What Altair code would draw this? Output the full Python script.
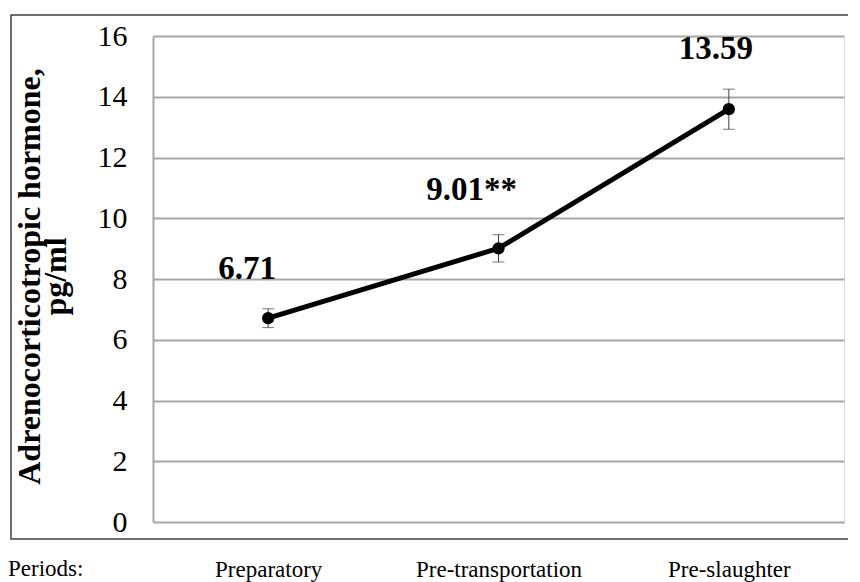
import altair as alt
import pandas as pd

categories = ["Preparatory", "Pre-transportation", "Pre-slaughter"]
means = [6.71, 9.01, 13.59]
errors = [0.31, 0.45, 0.66]
labels = ["6.71", "9.01**", "13.59"]
y_ticks = [0, 2, 4, 6, 8, 10, 12, 14, 16]

df = pd.DataFrame({
    "period": categories,
    "mean": means,
    "lo": [m - e for m, e in zip(means, errors)],
    "hi": [m + e for m, e in zip(means, errors)],
    "label": labels,
})

SERIF = "'Liberation Serif', 'Times New Roman', Times, serif"
W, H = 691, 486

x_enc = alt.X(
    "period:N",
    sort=categories,
    scale=alt.Scale(type="point", padding=0.5),
    axis=alt.Axis(
        title=None, domain=False, ticks=False, tickSize=0, grid=False,
        labelAngle=0, labelFont=SERIF, labelFontSize=23, labelColor="#000000",
        labelPadding=36, labelBaseline="top",
    ),
)
y_scale = alt.Scale(domain=[0, 16], nice=False, zero=True)
y_enc = alt.Y(
    "mean:Q",
    scale=y_scale,
    axis=alt.Axis(
        values=y_ticks,
        title=["Adrenocorticotropic hormone,", "pg/ml"],
        titleFont=SERIF, titleFontSize=32, titleFontWeight="bold",
        titleColor="#000000", titleLineHeight=26,
        titleAngle=-90, titleAlign="center", titleBaseline="middle",
        titleX=-124, titleY=240,
        labelFont=SERIF, labelFontSize=30, labelColor="#000000",
        labelPadding=26, ticks=False, tickSize=0,
        domain=True, domainColor="#a6a6a6", domainWidth=2,
        grid=True, gridColor="#a6a6a6", gridWidth=2,
    ),
)

base = alt.Chart(df)

frame = base.mark_rect(fill=None, stroke="#404040", strokeWidth=1.5, clip=False).encode(
    x=alt.value(-142), x2=alt.value(704), y=alt.value(-21), y2=alt.value(503)
).transform_filter(alt.datum.period == categories[0])

rules = base.mark_rule(color="#404040", strokeWidth=1).encode(
    x=x_enc, y=alt.Y("lo:Q", scale=y_scale), y2="hi:Q"
)
caps_lo = base.mark_tick(color="#404040", thickness=1, size=12).encode(
    x=x_enc, y=alt.Y("lo:Q", scale=y_scale)
)
caps_hi = base.mark_tick(color="#404040", thickness=1, size=12).encode(
    x=x_enc, y=alt.Y("hi:Q", scale=y_scale)
)
line = base.mark_line(color="#000000", strokeWidth=5).encode(x=x_enc, y=y_enc)
points = base.mark_point(filled=True, color="#000000", size=150, opacity=1).encode(
    x=x_enc, y=alt.Y("mean:Q", scale=y_scale)
)

offsets = {"6.71": (-21, -49), "9.01**": (-27, -58), "13.59": (-13, -60)}
text_layers = []
for lab in labels:
    dx, dy = offsets[lab]
    text_layers.append(
        base.mark_text(font=SERIF, fontSize=33, fontWeight="bold", color="#000000",
                       align="center", baseline="middle", dx=dx, dy=dy)
        .encode(x=x_enc, y=alt.Y("mean:Q", scale=y_scale), text="label:N")
        .transform_filter(alt.datum.label == lab)
    )

periods_txt = base.mark_text(font=SERIF, fontSize=23, color="#000000",
                             align="left", baseline="top", clip=False).encode(
    x=alt.value(-145), y=alt.value(H + 36), text=alt.value("Periods:")
).transform_filter(alt.datum.period == categories[0])

chart = alt.layer(
    frame, line, rules, caps_lo, caps_hi, points, *text_layers, periods_txt
).properties(
    width=W, height=H,
    autosize=alt.AutoSizeParams(type="none"),
    padding={"left": 145, "top": 28, "right": 4, "bottom": 60},
).configure_view(stroke=None).configure(background="#ffffff")

chart.save("out.html", embed_options={"renderer": "svg", "actions": False})
